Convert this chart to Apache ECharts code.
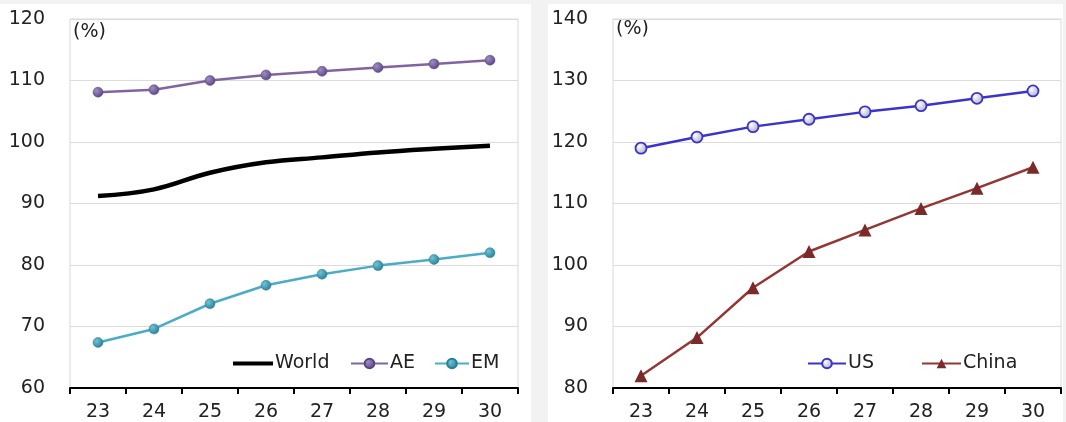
<!DOCTYPE html>
<html>
<head>
<meta charset="utf-8">
<script src="https://cdn.jsdelivr.net/npm/echarts@6/dist/echarts.min.js"></script>
<style>
html,body{margin:0;padding:0;background:#f2f2f2;}
#c{width:1066px;height:422px;}
</style>
</head>
<body>
<div id="c"></div>
<script>
const categories = ['23','24','25','26','27','28','29','30'];
const world = [91.2, 92.3, 95.0, 96.7, 97.5, 98.3, 98.9, 99.4];
const ae = [108.1, 108.5, 110.0, 110.9, 111.5, 112.1, 112.7, 113.3];
const em = [67.4, 69.6, 73.7, 76.7, 78.5, 79.9, 80.9, 82.0];
const us = [119.0, 120.8, 122.5, 123.7, 124.9, 125.9, 127.1, 128.3];
const china = [82.0, 88.2, 96.3, 102.2, 105.7, 109.2, 112.5, 115.9];
const leftTicks = {min: 60, max: 120, interval: 10};
const rightTicks = {min: 80, max: 140, interval: 10};
const unitLabel = '(%)';

const FONT = 'DejaVu Sans';
const chart = echarts.init(document.getElementById('c'));

function xAxis(gi){
  return {
    type:'category', gridIndex:gi, data:categories, boundaryGap:true,
    axisLine:{show:true, lineStyle:{color:'#000', width:2}},
    axisTick:{show:true, length:6, lineStyle:{color:'#000', width:2}, alignWithLabel:false},
    axisLabel:{color:'#222', fontFamily:FONT, fontSize:19, margin:15},
    splitLine:{show:false}
  };
}
function yAxis(gi, t){
  return {
    type:'value', gridIndex:gi, min:t.min, max:t.max, interval:t.interval,
    axisLine:{show:false}, axisTick:{show:false},
    axisLabel:{color:'#222', fontFamily:FONT, fontSize:19, margin:25},
    splitLine:{show:true, lineStyle:{color:'#dcdcdc', width:1}}
  };
}
function ball(c1, c2){
  return new echarts.graphic.RadialGradient(0.35,0.35,0.7,[{offset:0,color:c1},{offset:1,color:c2}]);
}
const legTxt = {fontFamily:FONT, fontSize:19, color:'#222', padding:[0,0,0,-3]};
function leg(name, left, w, h, icon){
  const d = icon ? {name:name, icon:icon} : name;
  return {left:left, top:349, itemWidth:w, itemHeight:h, data:[d], textStyle:legTxt};
}

chart.setOption({
  animation:false,
  backgroundColor:'#f2f2f2',
  graphic:[
    {type:'rect', shape:{x:0,y:4,width:531,height:418}, style:{fill:'#ffffff'}, z:-10},
    {type:'rect', shape:{x:548,y:4,width:515,height:418}, style:{fill:'#ffffff'}, z:-10},
    {type:'text', left:73, top:23, style:{text:unitLabel, font:'19px "DejaVu Sans"', fill:'#222'}},
    {type:'text', left:616, top:20, style:{text:unitLabel, font:'19px "DejaVu Sans"', fill:'#222'}}
  ],
  grid:[
    {left:70, top:19, width:448, height:369, show:true, borderColor:'#d9d9d9', borderWidth:1, backgroundColor:'#fff'},
    {left:613, top:19, width:448, height:369, show:true, borderColor:'#d9d9d9', borderWidth:1, backgroundColor:'#fff'}
  ],
  xAxis:[xAxis(0), xAxis(1)],
  yAxis:[yAxis(0, leftTicks), yAxis(1, rightTicks)],
  legend:[
    leg('World', 228, 40, 4, 'rect'),
    leg('AE', 345, 37, 12),
    leg('EM', 429, 34, 12),
    leg('US', 802, 38, 12),
    leg('China', 916, 39, 12)
  ],
  series:[
    {name:'World', type:'line', xAxisIndex:0, yAxisIndex:0, data:world, smooth:0.4,
     showSymbol:false, symbol:'none', lineStyle:{color:'#000', width:4.5}, itemStyle:{color:'#000'}},
    {name:'AE', type:'line', xAxisIndex:0, yAxisIndex:0, data:ae, symbol:'circle', symbolSize:10,
     lineStyle:{color:'#8064a2', width:2.5},
     itemStyle:{color:ball('#9f8cc0','#5a4585'), borderColor:'#5a4585', borderWidth:0.5}},
    {name:'EM', type:'line', xAxisIndex:0, yAxisIndex:0, data:em, symbol:'circle', symbolSize:10,
     lineStyle:{color:'#4bacc6', width:2.5},
     itemStyle:{color:ball('#6fc3d6','#2a7f95'), borderColor:'#2a7f95', borderWidth:0.5}},
    {name:'US', type:'line', xAxisIndex:1, yAxisIndex:1, data:us, symbol:'circle', symbolSize:11,
     lineStyle:{color:'#3a33cc', width:2.5},
     itemStyle:{color:ball('#ffffff','#a9a9c4'), borderColor:'#3a33cc', borderWidth:1.8}},
    {name:'China', type:'line', xAxisIndex:1, yAxisIndex:1, data:china, symbol:'triangle', symbolSize:13,
     lineStyle:{color:'#943634', width:2.5},
     itemStyle:{color:'#7a2a28'}}
  ]
});
</script>
</body>
</html>
